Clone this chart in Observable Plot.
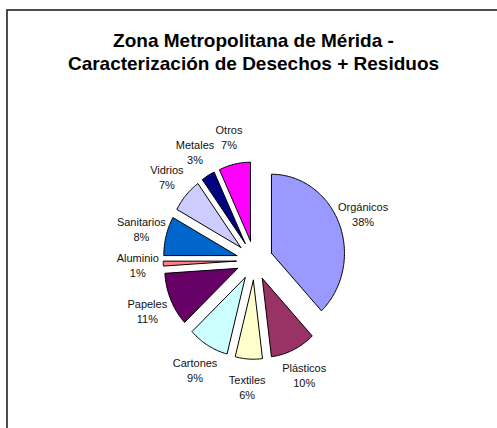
<!DOCTYPE html>
<html>
<head>
<meta charset="utf-8">
<script src="https://cdn.jsdelivr.net/npm/d3@7"></script>
<script src="https://cdn.jsdelivr.net/npm/@observablehq/plot@0.6"></script>
<style>
  html, body { margin: 0; padding: 0; background: #fff; overflow: hidden; }
</style>
</head>
<body>
<div id="chart"></div>
<script>
// ---- data ----
const names = ["Orgánicos", "Plásticos", "Textiles", "Cartones", "Papeles", "Aluminio", "Sanitarios", "Vidrios", "Metales", "Otros"];
const values = [38, 10, 6, 9, 11, 1, 8, 7, 3, 7];
const colors = ["#9999FF", "#993366", "#FFFFCC", "#CCFFFF", "#660066", "#FF8080", "#0066CC", "#CCCCFF", "#000080", "#FF00FF"];
const titleLines = ["Zona Metropolitana de Mérida -", "Caracterización de Desechos + Residuos"];

// ---- layout ----
const W = 497, H = 428;
const cx = 254, cy = 260;   // pie centre in pixels
const rx = 73, ry = 79;     // pixels per unit radius
const explode = 0.25;       // slice offset in radius units
const labelR = 1.6;

const total = d3.sum(values);
const arcs = d3.pie().sort(null).value(d => d)(values);

const slicePts = [];
const labels = [];
arcs.forEach((a, i) => {
  const mid = (a.startAngle + a.endAngle) / 2;
  const ox = explode * Math.sin(mid), oy = explode * Math.cos(mid);
  const n = Math.max(2, Math.ceil((a.endAngle - a.startAngle) / 0.02));
  slicePts.push({name: names[i], x: ox, y: oy});
  for (let k = 0; k <= n; k++) {
    const t = a.startAngle + (a.endAngle - a.startAngle) * k / n;
    slicePts.push({name: names[i], x: ox + Math.sin(t), y: oy + Math.cos(t)});
  }
  slicePts.push({name: names[i], x: ox, y: oy});
  labels.push({
    name: names[i],
    x: labelR * Math.sin(mid),
    y: labelR * Math.cos(mid),
    text: names[i] + "\n" + Math.round(values[i] / total * 100) + "%"
  });
});

const font = "'Liberation Sans', Arial, Helvetica, sans-serif";

const chart = Plot.plot({
  width: W,
  height: H,
  margin: 0,
  style: {fontFamily: font, background: "#fff", overflow: "hidden"},
  x: {domain: [-cx / rx, (W - cx) / rx], axis: null},
  y: {domain: [-(H - cy) / ry, cy / ry], axis: null},
  color: {domain: names, range: colors, legend: false},
  marks: [
    Plot.frame({stroke: "#222", strokeWidth: 1.6, insetLeft: 6.5, insetTop: 9.5, insetRight: -20, insetBottom: -20}),
    Plot.line(slicePts, {x: "x", y: "y", z: "name", fill: "name", stroke: "#000", strokeWidth: 1, strokeLinejoin: "miter", curve: "linear"}),
    Plot.text(labels, {x: "x", y: "y", text: "text", fontSize: 11, lineHeight: 1.36, fill: "#111", textAnchor: "middle"}),
    Plot.text([titleLines.join("\n")], {text: d => d, frameAnchor: "top", dy: 29, dx: 4.5, fontSize: 19, fontWeight: "bold", lineHeight: 1.26, fill: "#000"})
  ]
});
document.getElementById("chart").appendChild(chart);
</script>
</body>
</html>
